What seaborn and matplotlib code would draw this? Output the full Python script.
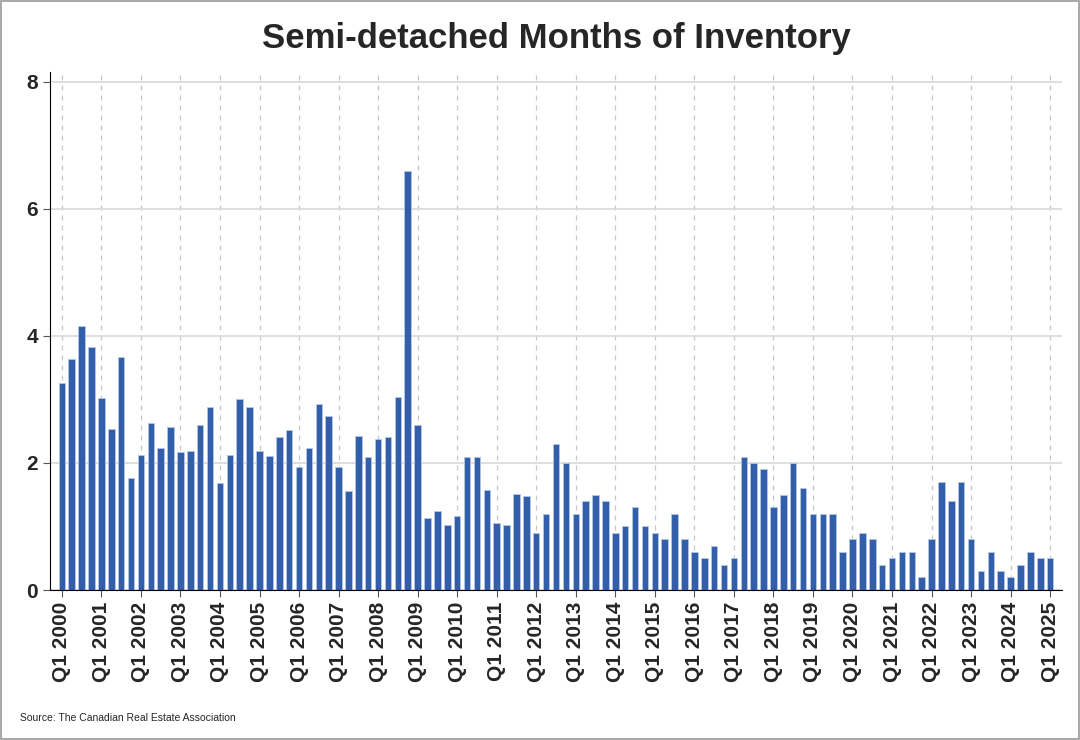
import matplotlib.pyplot as plt
import pandas as pd
import seaborn as sns

years = list(range(2000, 2026))
quarters = ['Q{} {}'.format(q, y) for y in years for q in range(1, 5)][:101]
months_inventory = [
    3.25, 3.63, 4.15, 3.82,
    3.02, 2.53, 3.67, 1.77,
    2.13, 2.63, 2.23, 2.57,
    2.17, 2.19, 2.60, 2.88,
    1.68, 2.13, 3.00, 2.88,
    2.18, 2.11, 2.41, 2.51,
    1.94, 2.23, 2.92, 2.73,
    1.93, 1.55, 2.42, 2.09,
    2.37, 2.41, 3.04, 6.59,
    2.60, 1.13, 1.25, 1.03,
    1.17, 2.10, 2.09, 1.57,
    1.06, 1.03, 1.51, 1.48,
    0.90, 1.20, 2.30, 2.00,
    1.20, 1.40, 1.50, 1.40,
    0.90, 1.00, 1.30, 1.00,
    0.90, 0.80, 1.20, 0.80,
    0.60, 0.50, 0.70, 0.40,
    0.50, 2.10, 2.00, 1.90,
    1.30, 1.50, 2.00, 1.60,
    1.20, 1.20, 1.20, 0.60,
    0.80, 0.90, 0.80, 0.40,
    0.50, 0.60, 0.60, 0.20,
    0.80, 1.70, 1.40, 1.70,
    0.80, 0.30, 0.60, 0.30,
    0.20, 0.40, 0.60, 0.50,
    0.50,
]
y_ticks = [0, 2, 4, 6, 8]

df = pd.DataFrame({'quarter': quarters, 'value': months_inventory})

sns.set_style('white')
plt.rcParams['font.family'] = 'Liberation Sans'
fig = plt.figure(figsize=(10.8, 7.4), dpi=100)
ax = fig.add_axes([50 / 1080, 150 / 740, 1012 / 1080, 518 / 740])

sns.barplot(ax=ax, data=df, x='quarter', y='value', color='#335ea9', saturation=1,
            width=0.66, edgecolor='#b4c6e6', linewidth=0.6)

q1_idx = [i for i, q in enumerate(quarters) if q.startswith('Q1')]
ax.set_xticks(q1_idx)
ax.set_xticklabels([quarters[i] for i in q1_idx], rotation=90, fontsize=15, fontweight='bold')
ax.set_xlim(-1.2, 101.2)
ax.set_ylim(0, 8.15)
ax.set_yticks(y_ticks)
ax.set_yticklabels([str(t) for t in y_ticks], fontsize=15, fontweight='bold')
ax.set_xlabel('')
ax.set_ylabel('')
ax.set_axisbelow(True)
ax.yaxis.grid(True, color='#d9d9d9', linewidth=1.2)
for i in q1_idx:
    ax.axvline(i, color='#c8c8c8', linestyle=(0, (4, 4)), linewidth=0.9, zorder=0)
ax.tick_params(axis='both', length=5, color='#555555', bottom=True, left=True)
for side in ['top', 'right']:
    ax.spines[side].set_visible(False)
ax.spines['left'].set_color('black')
ax.spines['bottom'].set_color('black')

fig.text(0.515, 0.948, 'Semi-detached Months of Inventory', ha='center', va='center',
         fontsize=25, fontweight='bold')
fig.text(20 / 1080, 1 - 718 / 740, 'Source: The Canadian Real Estate Association', fontsize=7.5,
         va='center')
fig.patches.append(plt.Rectangle((0.001, 0.001), 0.998, 0.998, transform=fig.transFigure,
                                 fill=False, edgecolor='#999999', linewidth=1.2))

plt.savefig('out.png', dpi=100)
